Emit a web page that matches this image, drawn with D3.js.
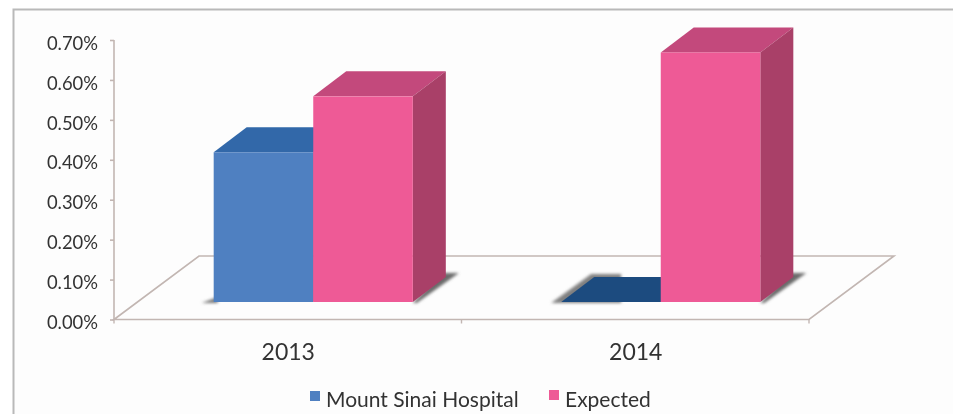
<!DOCTYPE html>
<html><head><meta charset="utf-8">
<script src="https://d3js.org/d3.v7.min.js"></script>
<style>html,body{margin:0;padding:0;background:#fff}svg{display:block}text{font-family:Lato,"Open Sans",sans-serif;fill:#333}</style>
</head><body><div id="c"></div>
<script>
const categories = ["2013", "2014"];
const seriesNames = ["Mount Sinai Hospital", "Expected"];
const hospital = [0.375, 0];
const expected = [0.515, 0.625];
const yTicks = [0, 0.1, 0.2, 0.3, 0.4, 0.5, 0.6, 0.7];

const W = 953, H = 414;
const svg = d3.select("#c").append("svg").attr("width", W).attr("height", H);
const defs = svg.append("defs");
defs.append("filter").attr("id","soft").attr("filterUnits","userSpaceOnUse").attr("x",0).attr("y",0).attr("width",W).attr("height",H)
  .append("feGaussianBlur").attr("stdDeviation",0.45);
defs.append("filter").attr("id","shadow").attr("x","-40%").attr("y","-40%").attr("width","180%").attr("height","180%")
  .append("feGaussianBlur").attr("stdDeviation",1.6);

const root = svg.append("g").attr("filter","url(#soft)");
root.append("rect").attr("width",W).attr("height",H).attr("fill","#fff");
root.append("rect").attr("x",13.5).attr("y",9.5).attr("width",W+20).attr("height",H+20)
  .attr("fill","#fdfdfd").attr("stroke","#b9b9b9").attr("stroke-width",2);

const y = d3.scaleLinear().domain([0,0.7]).range([319.5,40]);
const xEdges = d3.scaleBand().domain(categories).range([114,809]);
const x = d3.scaleBand().domain(categories).range([114,809]).paddingInner(0.427).paddingOuter(0.2135);
const xs = d3.scaleBand().domain(seriesNames).range([0,x.bandwidth()]);
const front = {"Mount Sinai Hospital":"#4f80c1","Expected":"#ee5a96"};
const topCol = {"Mount Sinai Hospital":"#3068a9","Expected":"#c3487b"};
const flatCol = "#1f4c7f";
const sideCol = "#a93f68";

// floor
const floorDx = 85, floorDy = 63.5;
const axisCol = "#c2b6b2";
root.append("path").attr("fill","none").attr("stroke",axisCol).attr("stroke-width",1.6)
  .attr("d",`M114 ${y(0)} L${114+floorDx} ${y(0)-floorDy} H${809+floorDx} L809 ${y(0)} Z`);

// y axis
const yAxis = d3.axisLeft(y).tickValues(yTicks).tickSize(4).tickPadding(12).tickFormat(d=>d.toFixed(2)+"%");
const gy = root.append("g").attr("transform","translate(114,0)").call(yAxis);
gy.selectAll("path,line").attr("stroke",axisCol).attr("stroke-width",1.6);
gy.selectAll("text").attr("font-size",18.4).attr("fill","#333").attr("dy","0.5em");
gy.select(".domain").attr("d",`M0 ${y(0.7)} V${y(0)}`);

// x axis
const xTickVals = [114, xEdges.step()+114, 809];
root.selectAll(".xt").data(xTickVals).join("line")
  .attr("x1",d=>d).attr("x2",d=>d).attr("y1",y(0)).attr("y2",y(0)+4)
  .attr("stroke",axisCol).attr("stroke-width",1.4);
root.selectAll(".cat").data(categories).join("text")
  .attr("x",d=>xEdges(d)+xEdges.bandwidth()/2+0.5).attr("y",360)
  .attr("text-anchor","middle").attr("font-size",23).text(d=>d);

// bars
const barShift = 25.5;
const depthX = 33, depthY = 25, baseLift = 17.5;
const rows = [];
categories.forEach((c,i)=>{
  rows.push({c,s:seriesNames[0],v:hospital[i]});
  rows.push({c,s:seriesNames[1],v:expected[i]});
});
const gb = root.append("g");
const left = d=>x(d.c)+xs(d.s)+barShift;
const base = y(0)-baseLift;
const topY = d=>y(d.v)-baseLift;
// shadows
categories.forEach((c)=>{
  const b = x(c)+x.bandwidth()+barShift;
  gb.append("path").attr("filter","url(#shadow)").attr("fill","#6a6a6a")
    .attr("d",`M${b} ${base+1} L${b+4} ${base+1} L${b+46} ${base-29} H${b+30} Z`);
});
rows.filter(d=>d.v===0).forEach(d=>{
  gb.append("path").attr("filter","url(#shadow)").attr("fill","#808080")
    .attr("d",`M${left(d)-10} ${base+1} L${left(d)+30} ${base-28} H${left(d)+60} V${base+1} Z`);
});
const a0 = x(categories[0])+barShift;
gb.append("path").attr("filter","url(#shadow)").attr("fill","#777")
  .attr("d",`M${a0-12} ${base+1} L${a0+4} ${base-5} V${base+1} Z`);

rows.forEach(d=>{
  const l = left(d), w = xs.bandwidth(), t = topY(d);
  const isFlat = d.v===0;
  gb.append("path").attr("fill",isFlat?flatCol:topCol[d.s])
    .attr("d",`M${l} ${t} L${l+depthX} ${t-depthY} H${l+w+depthX} L${l+w} ${t} Z`);
  if(!isFlat){
    gb.append("path").attr("fill",sideCol)
      .attr("d",`M${l+w} ${t} L${l+w+depthX} ${t-depthY} V${base-depthY} L${l+w} ${base} Z`);
    gb.append("rect").attr("x",l).attr("y",t).attr("width",w).attr("height",base-t).attr("fill",front[d.s]);
  }
});

// legend
const legX = {[seriesNames[0]]:310,[seriesNames[1]]:549};
const legY = {[seriesNames[0]]:391,[seriesNames[1]]:390};
seriesNames.forEach(s=>{
  root.append("rect").attr("x",legX[s]).attr("y",legY[s]).attr("width",10).attr("height",10).attr("fill",front[s]);
  root.append("text").attr("x",legX[s]+16).attr("y",407).attr("font-size",21).text(s);
});
</script></body></html>
